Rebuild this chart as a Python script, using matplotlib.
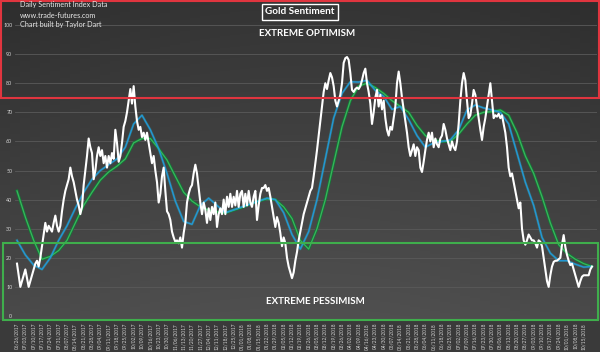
import numpy as np
import matplotlib
matplotlib.use("Agg")
import matplotlib.pyplot as plt
from matplotlib.patches import Rectangle
from matplotlib.transforms import blended_transform_factory

plt.rcParams['font.family'] = ['Lato', 'DejaVu Sans']

# ---- data (daily sentiment) ----
daily_sentiment = [
    18, 14, 10, 12, 14, 16, 13, 10, 12, 14, 16, 18, 19, 17, 20, 24, 28, 32, 29, 31,
    30, 29, 32, 34.5, 31, 29, 31, 36, 40, 43, 45, 47, 51, 48, 46, 43, 40, 38, 35, 37.5,
    45, 50, 55, 61, 58, 56, 47, 50, 55, 58, 55, 57, 52.5, 55, 51, 55, 52.5, 56, 54, 64,
    59.5, 53, 55, 59.5, 65, 67, 70, 74, 78, 73, 79, 72, 67, 64, 65, 61.5, 63, 60.5, 63, 59.5,
    56, 52.5, 55, 50, 46, 39, 42, 48, 51, 43, 36, 35, 33, 29, 27, 25.5, 26, 25, 27, 23.5,
    28.5, 32, 39, 42, 44, 45, 49, 52, 49, 44, 39, 35, 39, 36.5, 32, 37, 33, 37.5, 35, 39,
    30.6, 35, 37, 35, 40, 35, 41, 37.5, 42, 37.5, 41, 38, 43, 37.5, 42, 43, 37.5, 42, 38, 43,
    39, 37.5, 41, 43, 33, 38, 42, 44, 44, 45, 43, 44, 41, 37.5, 34, 30.6, 34, 32, 28.5, 24,
    27, 25, 20, 17, 15, 13, 15, 19, 22, 26, 29, 32, 35, 37, 39, 41, 43, 44, 48, 52.5,
    57, 62, 67, 72, 77, 80, 78, 81, 83.5, 82, 79, 74, 72, 74, 76, 80, 87, 88.6, 89, 88,
    83.5, 77.7, 77, 78, 78.5, 78, 79, 81, 83.5, 85, 80, 77, 73, 66, 70, 75, 77.7, 72, 76, 71,
    74, 68, 64, 62, 65, 64, 68, 72, 80, 84, 80, 75, 71, 67, 63, 58, 55, 57, 59, 55,
    58, 57, 51, 49.5, 53, 57, 60.5, 63, 60, 63, 58, 61, 59, 58, 61, 62, 66, 64, 61, 59,
    57, 60, 58, 57, 60, 66, 74, 80, 83.5, 81, 74, 68, 69, 73, 77.7, 76, 72, 68, 64, 60.5,
    65, 68, 72, 76, 80, 74, 68, 69, 68.5, 69.5, 68, 69, 66, 63, 58, 51, 48, 49, 46, 43,
    40, 37, 39, 30, 26, 24.5, 26, 28, 27, 26, 26, 25, 23.5, 26, 25.5, 24, 20, 16, 12, 10,
    14, 17, 18.6, 19, 19, 19.5, 20, 24.5, 27.8, 23.7, 21, 19, 17.5, 18, 16, 14, 12, 10, 12, 13.5,
    14, 14, 14, 14, 16, 17,
]

# weekly readings of the two moving-average lines (one value per week label)
short_avg_weekly = [
    26, 21, 17.5, 16, 20, 26, 31, 37, 42.5, 47, 50, 52, 54, 58, 66, 69, 64, 57.5, 49, 39.5,
    32.5, 31.5, 38, 40.5, 38, 35.5, 36.5, 37.5, 38.5, 39.5, 40.5, 40, 35.5, 28, 23, 29, 40, 54, 68, 76.5,
    80.5, 80.4, 81, 77.5, 75.5, 71, 72, 67.5, 62, 58, 59.5, 60, 60.5, 64, 70.8, 72.5, 71.5, 70.8, 70, 66,
    56, 46, 38, 27, 21.6, 19, 19, 17.8, 16.8, 17,
]
long_avg_weekly = [
    43, 34, 26, 19.5, 20.5, 22.5, 26, 32, 38, 42.5, 46.7, 49.5, 51.5, 54, 59.5, 61, 61, 57.5, 53.6, 48,
    42.5, 39.5, 37.5, 36.4, 35.8, 35.4, 36.4, 37.3, 38.5, 39.5, 40.3, 40, 37.5, 33.5, 26, 23, 30, 40, 52.5, 65,
    74, 79, 80, 78.5, 76.5, 74, 72, 70, 65.5, 62, 60.5, 60, 60, 62.5, 66, 69, 70, 70.2, 70.8, 69,
    63, 55, 49, 41, 32, 24.5, 21.5, 19.5, 18, 17,
]

week_labels = [
    "06/26/2017", "07/03/2017", "07/10/2017", "07/17/2017", "07/24/2017", "07/31/2017",
    "08/07/2017", "08/14/2017", "08/21/2017", "08/28/2017", "09/04/2017", "09/11/2017",
    "09/18/2017", "09/25/2017", "10/02/2017", "10/09/2017", "10/16/2017", "10/23/2017",
    "10/30/2017", "11/06/2017", "11/13/2017", "11/20/2017", "11/27/2017", "12/04/2017",
    "12/11/2017", "12/18/2017", "12/25/2017", "01/01/2018", "01/08/2018", "01/15/2018",
    "01/22/2018", "01/29/2018", "02/05/2018", "02/12/2018", "02/19/2018", "02/26/2018",
    "03/05/2018", "03/12/2018", "03/19/2018", "03/26/2018", "04/02/2018", "04/09/2018",
    "04/16/2018", "04/23/2018", "04/30/2018", "05/07/2018", "05/14/2018", "05/21/2018",
    "05/28/2018", "06/04/2018", "06/11/2018", "06/18/2018", "06/25/2018", "07/02/2018",
    "07/09/2018", "07/16/2018", "07/23/2018", "07/30/2018", "08/06/2018", "08/13/2018",
    "08/20/2018", "08/27/2018", "09/03/2018", "09/10/2018", "09/17/2018", "09/24/2018",
    "10/01/2018", "10/08/2018", "10/15/2018",
]
y_ticks = [0, 10, 20, 30, 40, 50, 60, 70, 80, 90, 100]
optimism_level = 75
pessimism_level = 25

W, H = 600, 352
fig = plt.figure(figsize=(W / 100, H / 100), dpi=100)

# background gradient
bg = fig.add_axes([0, 0, 1, 1], zorder=0)
bg.set_axis_off()
rows = np.linspace(0, 1, H)[:, None]
cols = np.linspace(-1, 1, 60)[None, :]
top_c = 0.18
bot_c = 0.30
val = top_c + (bot_c - top_c) * rows + 0.025 * (1 - cols ** 2)
img = np.stack([val, val, val], axis=-1)
img[320:, :, :] = 0.23
bg.imshow(np.clip(img, 0, 1), aspect='auto', extent=[0, 1, 0, 1], origin='upper')
bg.set_xlim(0, 1)
bg.set_ylim(0, 1)

ax = fig.add_axes([15 / W, (H - 316) / H, 582 / W, 316 / H], zorder=1)
ax.set_facecolor('none')
for s in ax.spines.values():
    s.set_visible(False)
ax.set_ylim(0, 108.6)
ax.set_xlim(-1.2, 348)

ax.set_yticks(y_ticks)
ax.set_yticklabels([str(v) for v in y_ticks], fontsize=3.8, color='#d5d5d5')
ax.yaxis.grid(True, color='#5a5a5a', lw=0.6)
ax.tick_params(axis='y', length=0, pad=2)

xt = np.arange(len(week_labels)) * 5
ax.set_xticks(xt)
ax.set_xticklabels(week_labels, rotation=90, fontsize=3.4, color='#d0d0d0')
ax.tick_params(axis='x', length=0, pad=5)

days = np.arange(len(daily_sentiment))
wk = np.arange(len(short_avg_weekly)) * 5

ax.plot(wk, long_avg_weekly, color='#127a36', lw=2.0, solid_joinstyle='round', zorder=2)
ax.plot(wk, long_avg_weekly, color='#3ab35c', lw=0.9, solid_joinstyle='round', zorder=3)
ax.plot(wk, short_avg_weekly, color='#25b8b8', lw=1.8, alpha=0.35, solid_joinstyle='round', zorder=3)
ax.plot(wk, short_avg_weekly, color='#2396d6', lw=1.0, solid_joinstyle='round', zorder=4)
ax.plot(days, daily_sentiment, color='white', lw=1.5, solid_joinstyle='round', zorder=5)

# zones
tr = blended_transform_factory(fig.transFigure, ax.transData)
ax.add_patch(Rectangle((1 / W, optimism_level), 598 / W, 108.25 - optimism_level,
                       fill=False, edgecolor='#e0353f', lw=1.5, transform=tr, clip_on=False, zorder=6))
ax.add_patch(Rectangle((2.5 / W, -1.4), 595 / W, pessimism_level + 1.4,
                       fill=False, edgecolor='#3fae4c', lw=1.5, transform=tr, clip_on=False, zorder=6))

fig.text(0.5, (H - 12) / H, 'Gold Sentiment', ha='center', va='center', fontsize=7.2,
         fontweight='bold', color='white',
         bbox=dict(facecolor='none', edgecolor='white', lw=1.0, boxstyle='square,pad=0.35'), zorder=7)
fig.text(307 / W, (H - 34) / H, 'EXTREME OPTIMISM', ha='center', va='center', fontsize=7,
         fontweight='bold', color='white', zorder=7)
fig.text(315 / W, (H - 302) / H, 'EXTREME PESSIMISM', ha='center', va='center', fontsize=7,
         fontweight='bold', color='white', zorder=7)
for i, t in enumerate(['Daily Sentiment Index Data', 'www.trade-futures.com', 'Chart built by Taylor Dart']):
    fig.text(20 / W, (H - 5 - 10 * i) / H, t, ha='left', va='center', fontsize=5.2,
             color='#e8e8e8', zorder=7)

fig.savefig('out.png', dpi=100)
